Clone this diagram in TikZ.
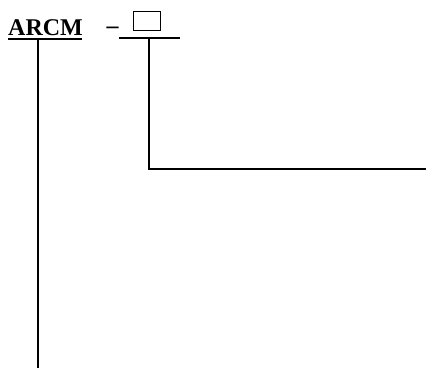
\documentclass[tikz,border=0pt]{standalone}
\usepackage{fontspec}
\setmainfont{Liberation Serif}
\usepackage{tikz}
\usetikzlibrary{positioning}

\begin{document}
\begin{tikzpicture}[x=1pt, y=-1pt,
        title/.style={font=\bfseries\fontsize{24}{24}\selectfont, inner sep=0pt, anchor=base west},
        dashmark/.style={font=\bfseries\fontsize{24}{24}\selectfont, inner sep=0pt, anchor=base},
        blank/.style={rectangle, draw, line width=1.6pt, minimum width=27pt, minimum height=19pt, inner sep=0pt},
        stroke/.style={-, line width=1.8pt, black}
    ]
        \useasboundingbox (0,0) rectangle (426,371);

        \node[title](arcm) at (8,36){ARCM};
        \coordinate (ulleft) at (8,39);
        \coordinate (ulright) at (82,39);
        \coordinate (arcmtap) at (38,39);
        \coordinate (arcmfoot) at (38,368);

        \node[dashmark](dash) at (112.5,34){--};
        \node[blank](slot) at (147,21){};
        \coordinate (barleft) at (119,38);
        \coordinate (barright) at (180,38);
        \coordinate (slottap) at (149,38);
        \coordinate (slotbend) at (149,169);
        \coordinate (slotout) at (426,169);

        \draw[stroke] (ulleft) -- (ulright);
        \draw[stroke] (arcmtap) -- (arcmfoot);
        \draw[stroke] (barleft) -- (barright);
        \draw[stroke] (slottap) -- (slotbend) -- (slotout);
    \end{tikzpicture}
\end{document}
